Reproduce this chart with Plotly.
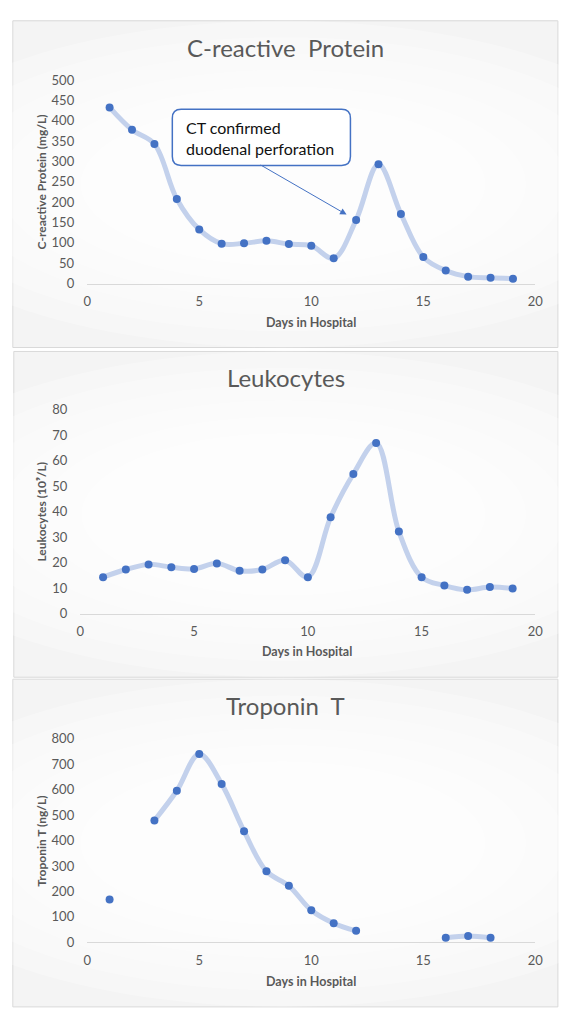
import plotly.graph_objects as go

W, H = 561, 1009

# ---------------- data ----------------
days = list(range(1, 20))
crp = [433, 378, 343, 208, 133, 98, 99, 105, 97, 93, 62, 156, 293, 171, 65, 32, 17, 14, 12]
leuko = [14.3, 17.3, 19.3, 18.2, 17.5, 19.7, 16.8, 17.3, 20.9, 14.3, 37.8, 54.8, 67.0, 32.2,
         14.3, 11.0, 9.3, 10.4, 9.8]
tropo = [168, None, 479, 596, 741, 623, 437, 279, 222, 126, 75, 45, None, None, None, 18, 25, 18, None]

titles = ["C-reactive\u00a0 Protein", "Leukocytes", "Troponin\u00a0 T"]
ytitles = ["C-reactive Protein (mg/L)", "Leukocytes (10⁹/L)", "Troponin T (ng/L)"]
xtitle = "Days in Hospital"
yranges = [[0, 500], [0, 80], [0, 800]]
ydticks = [50, 10, 100]
note_text = "CT confirmed<br>duodenal perforation"
note_day, note_val = 12, 156

# ---------------- styling / layout helpers ----------------
FONT = "Lato, Carlito, Calibri, 'Open Sans', sans-serif"
GREY = "#595959"
MARK = "#4472C4"
LINE = "#C3D1EC"


def px(x):
    return x / W


def py(y):
    return 1 - y / H


# pixel geometry of each panel: (x0 of axis, x1 of axis, y of zero, y of top)
geo = [(85, 543, 280.0, 73.3), (78, 543, 615.3, 408.3), (85, 543, 949.3, 742.7)]
panels = [(9, 13, 345), (10, 349, 680), (9, 682, 1015)]
title_y = [40, 375, 709]
xtitle_pos = [(314, 320), (310, 654), (314, 989)]
ytitle_pos = [(38, 177), (38.5, 512), (38, 847)]

fig = go.Figure()
series = [crp, leuko, tropo]

shapes = []
annotations = []

for i in range(3):
    x0, x1, yz, yt = geo[i]
    xa = "xaxis" if i == 0 else f"xaxis{i + 1}"
    ya = "yaxis" if i == 0 else f"yaxis{i + 1}"
    xr = "x" if i == 0 else f"x{i + 1}"
    yr = "y" if i == 0 else f"y{i + 1}"

    fig.add_trace(go.Scatter(
        x=days, y=series[i], mode="lines", xaxis=xr, yaxis=yr,
        line=dict(color=LINE, width=5, shape="spline", smoothing=1.0),
        connectgaps=False, hoverinfo="skip", showlegend=False, cliponaxis=False))
    fig.add_trace(go.Scatter(
        x=days, y=series[i], mode="markers", xaxis=xr, yaxis=yr,
        marker=dict(color=MARK, size=8), showlegend=False, cliponaxis=False))

    fig.layout[xa] = dict(
        domain=[px(x0), px(x1)], range=[0, 20], dtick=5, tick0=0,
        showgrid=False, zeroline=False, showline=True, linecolor="#d9d9d9", linewidth=1,
        ticks="", ticklabelstandoff=6, anchor=yr,
        tickfont=dict(family=FONT, size=13, color=GREY), fixedrange=True)
    fig.layout[ya] = dict(
        domain=[py(yz), py(yt)], range=yranges[i], dtick=ydticks[i], tick0=0,
        showgrid=False, zeroline=False, showline=False, ticks="", ticklabelstandoff=12,
        anchor=xr, tickfont=dict(family=FONT, size=13, color=GREY), fixedrange=True)

    # panel background with a soft radial-like gradient
    l, t, b = panels[i]
    shapes.append(dict(type="rect", xref="paper", yref="paper", x0=px(l), x1=px(W + 5),
                       y0=py(b), y1=py(t), fillcolor="#f4f4f4",
                       line=dict(color="#d9d9d9", width=1), layer="below"))
    cx, cy = (l + W) / 2, (t + b) / 2
    ph = b - t
    for k in range(9):
        f = 1.0 - k * 0.1
        hw = (W - l) * 0.75 * f
        hh = ph * 0.5 * f
        shapes.append(dict(type="circle", xref="paper", yref="paper",
                           x0=px(cx - hw), x1=px(cx + hw), y0=py(cy + hh), y1=py(cy - hh),
                           fillcolor="white", opacity=0.28, line=dict(width=0), layer="below"))

    annotations.append(dict(text=titles[i], xref="paper", yref="paper", x=px(288), y=py(title_y[i]),
                            xanchor="center", yanchor="middle", showarrow=False,
                            font=dict(family=FONT, size=24, color=GREY)))
    annotations.append(dict(text=f"<b>{xtitle}</b>", xref="paper", yref="paper",
                            x=px(xtitle_pos[i][0]), y=py(xtitle_pos[i][1]),
                            xanchor="center", yanchor="middle", showarrow=False,
                            font=dict(family=FONT, size=12.5, color=GREY)))
    annotations.append(dict(text=f"<b>{ytitles[i]}</b>", xref="paper", yref="paper",
                            x=px(ytitle_pos[i][0]), y=py(ytitle_pos[i][1]), textangle=-90,
                            xanchor="center", yanchor="middle", showarrow=False,
                            font=dict(family=FONT, size=12, color=GREY)))

# callout box with rounded corners
bx0, bx1, by0, by1, r = 172, 354, 103, 160, 9
path = (f"M {px(bx0 + r)},{py(by0)} L {px(bx1 - r)},{py(by0)} "
        f"Q {px(bx1)},{py(by0)} {px(bx1)},{py(by0 + r)} L {px(bx1)},{py(by1 - r)} "
        f"Q {px(bx1)},{py(by1)} {px(bx1 - r)},{py(by1)} L {px(bx0 + r)},{py(by1)} "
        f"Q {px(bx0)},{py(by1)} {px(bx0)},{py(by1 - r)} L {px(bx0)},{py(by0 + r)} "
        f"Q {px(bx0)},{py(by0)} {px(bx0 + r)},{py(by0)} Z")
shapes.append(dict(type="path", path=path, xref="paper", yref="paper",
                   fillcolor="white", line=dict(color=MARK, width=1.5), layer="above"))
annotations.append(dict(text=note_text, xref="paper", yref="paper", x=px(184), y=py(132),
                        xanchor="left", yanchor="middle", align="left", showarrow=False,
                        font=dict(family=FONT, size=16, color="#111111")))
annotations.append(dict(text="", x=note_day, y=note_val, xref="x", yref="y",
                        ax=-97, ay=-56, showarrow=True, arrowhead=2, arrowsize=1.3,
                        arrowwidth=1, arrowcolor=MARK, standoff=11))

fig.update_layout(
    width=W, height=H, autosize=False,
    margin=dict(l=0, r=0, t=0, b=0),
    paper_bgcolor="white", plot_bgcolor="rgba(0,0,0,0)",
    shapes=shapes, annotations=annotations,
    font=dict(family=FONT, color=GREY),
    hovermode=False,
)

# place the graph flush with the window (no page margin, no scrollbars)
post = ("document.documentElement.style.overflow='hidden';"
        "document.body.style.margin='0';document.body.style.overflow='hidden';"
        "var g=document.getElementById('{plot_id}');"
        "g.style.position='absolute';g.style.left='0px';g.style.top='0px';")

fig.write_html("out.html", config={"displayModeBar": False}, post_script=post)
